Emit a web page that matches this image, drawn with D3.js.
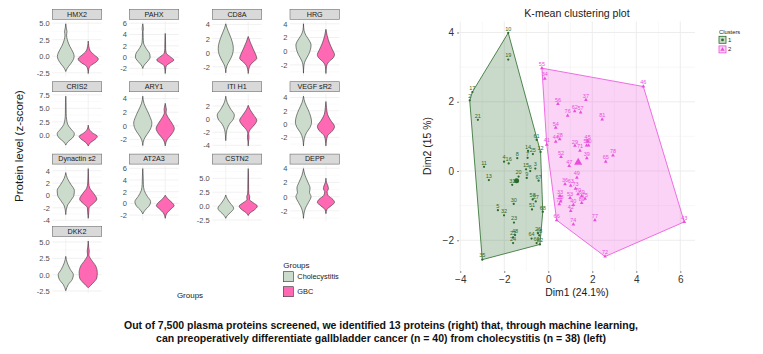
<!DOCTYPE html>
<html>
<head>
<meta charset="utf-8">
<script src="https://cdnjs.cloudflare.com/ajax/libs/d3/7.8.5/d3.min.js"></script>
<style>
  body { margin: 0; background: #fff; }
  svg { font-family: "Liberation Sans", Arial, sans-serif; }
</style>
</head>
<body>
<svg id="chart" width="763" height="354"></svg>
<script>
// ---- data ----
const proteins = ["HMX2", "PAHX", "CD8A", "HRG", "CRIS2", "ARY1", "ITI H1", "VEGF sR2",
                  "Dynactin s2", "AT2A3", "CSTN2", "DEPP", "DKK2"];
const groups = ["Cholecystitis", "GBC"];

const panelTickLabels = [
    ["5.0", "2.5", "0.0", "-2.5"], ["6", "4", "2", "0", "-2"], ["4", "2", "0", "-2"], ["4", "2", "0", "-2"],
    ["7.5", "5.0", "2.5", "0.0"], ["4", "2", "0", "-2"], ["2", "0", "-2", "-4"], ["4", "2", "0", "-2"],
    ["4", "2", "0", "-2", "-4"], ["6", "4", "2", "0", "-2"], ["5.0", "2.5", "0.0", "-2.5"], ["4", "2", "0", "-2"],
    ["5.0", "2.5", "0.0", "-2.5"]
];

// violin outlines: [z-score, relative half width]
const cholecystitisProfiles = [
    [[4.9,0],[4.3,0.05],[3.7,0.12],[3.2,0.08],[2.5,0.15],[1.5,0.4],[0.5,0.75],[0,0.83],[-0.5,0.75],[-1.2,0.45],[-1.8,0.15],[-2.3,0]],
    [[5.9,0],[5.0,0.06],[4.5,0.03],[3.5,0.04],[2.5,0.08],[1.5,0.35],[0.5,0.7],[0,0.73],[-0.7,0.5],[-1.4,0.15],[-2.0,0]],
    [[4.1,0],[3.5,0.12],[2.5,0.4],[1.5,0.65],[0.6,0.75],[-0.3,0.65],[-1.2,0.35],[-1.9,0.1],[-2.85,0]],
    [[4.0,0],[3.0,0.06],[2.3,0.25],[1.5,0.6],[0.9,0.75],[0.3,0.7],[-0.5,0.5],[-1.3,0.2],[-2.0,0.05],[-3.2,0]],
    [[7.25,0],[6,0.03],[4,0.04],[3,0.08],[2,0.2],[1.2,0.5],[0.3,0.85],[-0.5,0.65],[-1.2,0.2],[-1.8,0]],
    [[4.35,0],[3.3,0.12],[2.2,0.45],[1.2,0.75],[0.4,0.9],[-0.5,0.75],[-1.3,0.4],[-2.0,0.12],[-2.9,0]],
    [[3.5,0],[2.5,0.15],[1.5,0.5],[0.6,0.85],[0,0.75],[-0.8,0.35],[-1.6,0.12],[-2.4,0.04],[-3.3,0]],
    [[4.2,0],[3.2,0.15],[2.2,0.45],[1.2,0.7],[0.3,0.8],[-0.5,0.65],[-1.3,0.3],[-2.2,0.08],[-3.3,0]],
    [[3.7,0],[2.8,0.15],[1.8,0.5],[0.8,0.85],[0,0.8],[-0.8,0.5],[-1.7,0.15],[-3.1,0]],
    [[5.95,0],[4.5,0.04],[3.2,0.06],[2.2,0.15],[1.2,0.45],[0.3,0.78],[-0.5,0.6],[-1.2,0.2],[-1.8,0]],
    [[2.0,0],[1.3,0.15],[0.5,0.45],[-0.4,0.78],[-1.1,0.5],[-1.7,0.15],[-2.2,0]],
    [[3.95,0],[3,0.15],[2,0.45],[1.2,0.65],[0.6,0.6],[0,0.75],[-0.8,0.5],[-1.6,0.2],[-2.3,0.06],[-3.05,0]],
    [[2.8,0],[1.8,0.15],[0.8,0.45],[0,0.75],[-0.7,0.65],[-1.5,0.25],[-2.45,0]]
];
const gbcProfiles = [
    [[2.3,0],[1.5,0.06],[0.8,0.2],[0.2,0.6],[-0.4,1.0],[-0.9,0.75],[-1.4,0.25],[-1.9,0.06],[-2.6,0]],
    [[4.2,0],[3,0.03],[1.5,0.04],[0.7,0.1],[0,0.55],[-0.5,0.85],[-1,0.5],[-1.5,0.12],[-2.1,0.04],[-2.9,0]],
    [[2.3,0],[1.5,0.2],[0.5,0.5],[-0.3,0.75],[-0.8,0.85],[-1.3,0.5],[-1.9,0.15],[-2.95,0]],
    [[3.2,0],[2.3,0.12],[1.2,0.35],[0.2,0.65],[-0.5,0.85],[-1.0,0.7],[-1.6,0.25],[-2.2,0.06],[-3.25,0]],
    [[1.9,0],[1.2,0.08],[0.5,0.4],[-0.2,0.9],[-0.7,0.7],[-1.3,0.25],[-1.95,0]],
    [[3.3,0],[2.7,0.08],[2.4,0.12],[2.0,0.08],[1.2,0.3],[0.3,0.7],[-0.4,0.9],[-1.2,0.65],[-2.0,0.2],[-2.95,0]],
    [[2.1,0],[1.4,0.2],[0.6,0.55],[-0.2,0.85],[-0.9,0.6],[-1.6,0.2],[-2.2,0.05],[-2.8,0.08],[-3.4,0.03],[-4.1,0]],
    [[3.4,0],[2.5,0.06],[1.5,0.15],[0.6,0.45],[-0.4,0.85],[-1.1,0.6],[-1.8,0.15],[-3.3,0]],
    [[4.35,0],[3.0,0.03],[2.0,0.05],[1.2,0.15],[0.3,0.55],[-0.6,0.85],[-1.3,0.5],[-2.0,0.08],[-2.6,0.06],[-3.2,0.03],[-3.7,0]],
    [[1.4,0],[0.8,0.25],[0.1,0.7],[-0.4,0.88],[-0.9,0.6],[-1.6,0.2],[-2.55,0]],
    [[6.75,0],[5,0.03],[3,0.04],[2.2,0.06],[1.7,0.15],[1.2,0.12],[0.6,0.5],[0,0.9],[-0.7,0.6],[-1.2,0.2],[-1.7,0]],
    [[2.6,0],[2.0,0.06],[1.5,0.2],[1.1,0.25],[0.7,0.12],[0.2,0.2],[-0.4,0.7],[-0.8,0.85],[-1.3,0.5],[-1.8,0.1],[-2.4,0]],
    [[5.15,0],[4.2,0.05],[3.6,0.1],[3.0,0.07],[2.3,0.3],[1.3,0.75],[0.3,0.9],[-0.5,0.85],[-1.3,0.45],[-2.0,0]]
];

// k-means points: [id, Dim1, Dim2]
const cluster1Points = [
    [2,-3.57,2.04],[3,-0.59,0.07],[4,-2.01,0.27],[5,-2.29,-1.13],[6,-0.82,0.00],[7,-0.94,0.38],
    [8,-1.41,0.37],[9,-0.98,-0.20],[10,-1.82,3.99],[11,-2.92,0.12],[12,-0.35,0.55],[13,-2.70,-0.26],
    [14,-0.92,0.58],[15,-1.01,0.05],[16,-1.80,0.22],[17,-3.45,2.28],[18,-0.41,-1.86],[19,-1.82,3.22],
    [20,-1.35,-0.16],[21,-3.20,1.48],[22,-1.60,-1.92],[23,-1.56,-1.49],[24,-1.60,-2.08],[25,-0.70,0.49],
    [26,-0.47,-1.80],[27,-0.57,-0.88],[30,-1.57,-0.95],[31,-1.64,-0.40],[32,-2.01,-1.28],[35,-3.00,-2.56],
    [48,-1.51,-1.85],[51,-0.74,-1.11],[58,-0.71,-0.82],[60,-0.53,-2.08],[61,-0.53,0.90],[64,-0.76,-1.95],
    [67,-0.44,-0.28],[68,-0.25,-1.18],[82,-0.38,-2.12]
];
const cluster2Points = [
    [34,-0.16,2.67],[55,-0.29,2.97],[46,4.32,2.44],[37,1.71,2.05],[56,0.44,1.94],[62,1.20,1.73],
    [57,1.47,1.69],[76,0.88,1.60],[81,2.45,1.49],[54,0.34,1.25],[44,0.34,0.85],[28,0.52,0.92],
    [41,-0.07,0.76],[29,1.21,0.73],[45,1.79,0.86],[59,1.74,0.74],[50,1.83,0.74],[71,1.44,0.59],
    [78,2.94,0.45],[52,0.58,0.41],[39,1.75,0.37],[65,2.61,0.27],[47,0.95,0.15],[49,1.30,-0.19],
    [36,0.76,-0.38],[63,1.02,-0.42],[73,1.24,-0.51],[70,1.35,-0.67],[53,0.99,-0.78],[69,1.52,-0.72],
    [33,0.53,-0.72],[75,1.67,-0.80],[38,0.56,-0.88],[40,1.14,-0.98],[80,1.52,-0.92],[79,0.50,-0.96],
    [42,1.02,-1.15],[66,0.38,-1.42],[77,2.12,-1.42],[74,1.14,-1.54],[43,6.18,-1.47],[72,2.58,-2.47]
];
const clusterCenters = [[-1.44,-0.28],[1.36,0.25]];
const clusterNames = ["1", "2"];
const xTicks = [-4, -2, 0, 2, 4, 6];
const yTicks = [-2, 0, 2, 4];

const captionLines = [
    "Out of 7,500 plasma proteins screened, we identified 13 proteins (right) that, through machine learning,",
    "can preoperatively differentiate gallbladder cancer (n = 40) from cholecystitis (n = 38) (left)"
];

// ---- styling ----
const groupFill = d3.scaleOrdinal().domain(groups).range(["#ccdccc", "#ff69b4"]);
const clusterColor = d3.scaleOrdinal().domain(clusterNames).range(["#2a6a2a", "#ea4fdc"]);

const svg = d3.select("#chart");

// ---- violin facets ----
const colLeft = [52.3, 129.3, 212.3, 290];
const panelW = 49.4;
const panelH = 54.7;

proteins.forEach((name, i) => {
    const col = i % 4, row = Math.floor(i / 4);
    const left = colLeft[col];
    const stripTop = 9.3 + row * 72.4;
    const top = stripTop + 12;
    const bottom = top + panelH;
    const profiles = [cholecystitisProfiles[i], gbcProfiles[i]];

    const ext = d3.extent(profiles.flat(), d => d[0]);
    const pad = (ext[1] - ext[0]) * 0.05;
    const y = d3.scaleLinear().domain([ext[0] - pad, ext[1] + pad]).range([bottom, top]);
    const x = d3.scalePoint().domain(groups).range([left, left + panelW]).padding(0.6);
    const halfMax = x.step() * 0.45;

    const ticks = panelTickLabels[i].map(Number);
    const g = svg.append("g");

    // minor grid
    const stepT = ticks[0] - ticks[1];
    const minor = [];
    for (let t = ticks[ticks.length - 1] - stepT / 2; t <= ticks[0] + stepT / 2 + 1e-9; t += stepT) {
        if (t >= y.domain()[0] && t <= y.domain()[1]) minor.push(t);
    }
    g.selectAll(".minor").data(minor).join("line")
        .attr("x1", left).attr("x2", left + panelW)
        .attr("y1", d => y(d)).attr("y2", d => y(d))
        .style("stroke", "#f4f4f4").style("stroke-width", 0.5);
    g.selectAll(".major").data(ticks.filter(t => t >= y.domain()[0] && t <= y.domain()[1])).join("line")
        .attr("x1", left).attr("x2", left + panelW)
        .attr("y1", d => y(d)).attr("y2", d => y(d))
        .style("stroke", "#ebebeb").style("stroke-width", 0.7);
    g.selectAll(".vgrid").data(groups).join("line")
        .attr("x1", d => x(d)).attr("x2", d => x(d))
        .attr("y1", top).attr("y2", bottom)
        .style("stroke", "#ebebeb").style("stroke-width", 0.7);

    // violins
    profiles.forEach((prof, k) => {
        const cx = x(groups[k]);
        const area = d3.area()
            .y(d => y(d[0]))
            .x0(d => cx - halfMax * d[1])
            .x1(d => cx + halfMax * d[1])
            .curve(d3.curveMonotoneY);
        g.append("path")
            .attr("d", area(prof))
            .style("fill", groupFill(groups[k]))
            .style("stroke", "#333")
            .style("stroke-width", 0.6);
    });

    // y axis
    const axis = g.append("g")
        .attr("transform", `translate(${left},0)`)
        .call(d3.axisLeft(y).tickValues(ticks).tickFormat((d, j) => panelTickLabels[i][j]).tickSize(0).tickPadding(2.5));
    axis.select(".domain").remove();
    axis.selectAll("text").style("font-size", "7.5px").style("fill", "#4d4d4d").style("font-family", "Liberation Sans, Arial, sans-serif");

    // strip
    g.append("rect")
        .attr("x", left).attr("y", stripTop)
        .attr("width", panelW).attr("height", 10)
        .style("fill", "#d9d9d9").style("stroke", "#6e6e6e").style("stroke-width", 0.6);
    g.append("text")
        .attr("x", left + panelW / 2).attr("y", stripTop + 5.3)
        .attr("text-anchor", "middle").attr("dominant-baseline", "middle")
        .style("font-size", "7.2px").style("fill", "#1a1a1a")
        .text(name);
});

svg.append("text")
    .attr("transform", "translate(20,146) rotate(-90)")
    .attr("text-anchor", "middle").attr("dominant-baseline", "middle")
    .style("font-size", "11.5px").style("fill", "#1a1a1a")
    .text("Protein level (z-score)");

svg.append("text")
    .attr("x", 190).attr("y", 296)
    .attr("text-anchor", "middle").attr("dominant-baseline", "middle")
    .style("font-size", "8px").style("fill", "#1a1a1a")
    .text("Groups");

// groups legend
const gl = svg.append("g").attr("transform", "translate(283.3,0)");
gl.append("text").attr("x", 0).attr("y", 265.5).attr("dominant-baseline", "middle")
    .style("font-size", "8px").style("fill", "#1a1a1a").text("Groups");
groups.forEach((grp, k) => {
    gl.append("rect").attr("x", 0).attr("y", 271.7 + k * 15).attr("width", 10).attr("height", 10)
        .style("fill", groupFill(grp)).style("stroke", "#333").style("stroke-width", 0.6);
    gl.append("text").attr("x", 14).attr("y", 276.9 + k * 15).attr("dominant-baseline", "middle")
        .style("font-size", "7.4px").style("fill", "#1a1a1a").text(grp);
});

// ---- k-means cluster plot ----
const allPts = cluster1Points.concat(cluster2Points);
const xe = d3.extent(allPts, d => d[1]);
const ye = d3.extent(allPts, d => d[2]);
const xpad = (xe[1] - xe[0]) * 0.05, ypad = (ye[1] - ye[0]) * 0.05;
const cx = d3.scaleLinear().domain([xe[0] - xpad, xe[1] + xpad]).range([459, 695]);
const cy = d3.scaleLinear().domain([ye[0] - ypad, ye[1] + ypad]).range([271, 21.5]);

const kg = svg.append("g");
const [x0, x1] = cx.domain(), [y0, y1] = cy.domain();
const xMinor = d3.range(-5, 8, 2).filter(v => v > x0 && v < x1);
const yMinor = d3.range(-3, 6, 2).filter(v => v > y0 && v < y1);

kg.selectAll(".xminor").data(xMinor).join("line")
    .attr("x1", d => cx(d)).attr("x2", d => cx(d)).attr("y1", cy(y0)).attr("y2", cy(y1))
    .style("stroke", "#f3f3f3").style("stroke-width", 0.6);
kg.selectAll(".yminor").data(yMinor).join("line")
    .attr("y1", d => cy(d)).attr("y2", d => cy(d)).attr("x1", cx(x0)).attr("x2", cx(x1))
    .style("stroke", "#f3f3f3").style("stroke-width", 0.6);
kg.selectAll(".xmajor").data(xTicks).join("line")
    .attr("x1", d => cx(d)).attr("x2", d => cx(d)).attr("y1", cy(y0)).attr("y2", cy(y1))
    .style("stroke", "#ebebeb").style("stroke-width", 0.9);
kg.selectAll(".ymajor").data(yTicks).join("line")
    .attr("y1", d => cy(d)).attr("y2", d => cy(d)).attr("x1", cx(x0)).attr("x2", cx(x1))
    .style("stroke", "#ebebeb").style("stroke-width", 0.9);

const clusters = [cluster1Points, cluster2Points];
clusters.forEach((pts, k) => {
    const hull = d3.polygonHull(pts.map(d => [cx(d[1]), cy(d[2])]));
    kg.append("path")
        .attr("d", "M" + hull.join("L") + "Z")
        .style("fill", clusterColor(clusterNames[k])).style("fill-opacity", 0.25)
        .style("stroke", clusterColor(clusterNames[k])).style("stroke-width", 0.8);
});

clusters.forEach((pts, k) => {
    const col = clusterColor(clusterNames[k]);
    const sym = k === 0 ? d3.symbolCircle : d3.symbolTriangle;
    kg.selectAll(`.pt${k}`).data(pts).join("path")
        .attr("transform", d => `translate(${cx(d[1])},${cy(d[2])})`)
        .attr("d", d3.symbol().type(sym).size(k === 0 ? 4 : 6))
        .style("fill", col);
    kg.selectAll(`.lb${k}`).data(pts).join("text")
        .attr("x", d => cx(d[1])).attr("y", d => cy(d[2]) - 2.2)
        .attr("text-anchor", "middle")
        .style("font-size", "5.5px").style("fill", col)
        .text(d => d[0]);
    kg.append("path")
        .attr("transform", `translate(${cx(clusterCenters[k][0])},${cy(clusterCenters[k][1])})`)
        .attr("d", d3.symbol().type(sym).size(k === 0 ? 20 : 28))
        .style("fill", col);
});

const xAxis = kg.append("g").attr("transform", `translate(0,${cy(y0)})`)
    .call(d3.axisBottom(cx).tickValues(xTicks).tickSize(2).tickPadding(3));
const yAxis = kg.append("g").attr("transform", `translate(${cx(x0)},0)`)
    .call(d3.axisLeft(cy).tickValues(yTicks).tickSize(2).tickPadding(3));
[xAxis, yAxis].forEach(a => {
    a.select(".domain").remove();
    a.selectAll("line").style("stroke", "#333").style("stroke-width", 0.6);
    a.selectAll("text").style("font-size", "10px").style("fill", "#333")
        .style("font-family", "Liberation Sans, Arial, sans-serif");
});

kg.append("text").attr("x", 577).attr("y", 14)
    .attr("text-anchor", "middle").attr("dominant-baseline", "middle")
    .style("font-size", "10.6px").style("fill", "#1a1a1a").text("K-mean clustering plot");
kg.append("text").attr("x", 577).attr("y", 293)
    .attr("text-anchor", "middle").attr("dominant-baseline", "middle")
    .style("font-size", "10.4px").style("fill", "#1a1a1a").text("Dim1 (24.1%)");
kg.append("text").attr("transform", "translate(428,146) rotate(-90)")
    .attr("text-anchor", "middle").attr("dominant-baseline", "middle")
    .style("font-size", "10.4px").style("fill", "#1a1a1a").text("Dim2 (15 %)");

// clusters legend
const cl = svg.append("g").attr("transform", "translate(719,0)");
cl.append("text").attr("x", 0).attr("y", 32.7).attr("dominant-baseline", "middle")
    .style("font-size", "5.8px").style("fill", "#1a1a1a").text("Clusters");
clusterNames.forEach((c, k) => {
    const col = clusterColor(c);
    const ky = 36.3 + k * 9.6;
    cl.append("rect").attr("x", 0).attr("y", ky).attr("width", 7).attr("height", 7)
        .style("fill", col).style("fill-opacity", 0.25).style("stroke", col).style("stroke-width", 0.8);
    cl.append("path").attr("transform", `translate(3.5,${ky + 3.6})`)
        .attr("d", d3.symbol().type(k === 0 ? d3.symbolCircle : d3.symbolTriangle).size(k === 0 ? 6 : 8))
        .style("fill", col);
    cl.append("text").attr("x", 9).attr("y", ky + 3.7).attr("dominant-baseline", "middle")
        .style("font-size", "6px").style("fill", "#1a1a1a").text(c);
});

// caption
svg.selectAll(".caption").data(captionLines).join("text")
    .attr("x", 381).attr("y", (d, i) => 329 + i * 12.8)
    .attr("text-anchor", "middle")
    .style("font-size", "10.5px").style("font-weight", "bold").style("fill", "#111")
    .text(d => d);
</script>
</body>
</html>
